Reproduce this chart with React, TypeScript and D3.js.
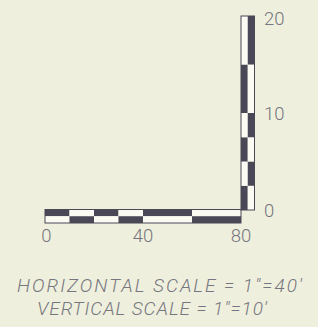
import { useEffect, useRef } from "react";
import * as d3 from "d3";

// horizontal bar scale (feet)
const hBreaks = [0, 10, 20, 30, 40, 60, 80];
const hLabels = [0, 40, 80];
// vertical bar scale (feet)
const vBreaks = [0, 2.5, 5, 7.5, 10, 15, 20];
const vLabels = [0, 10, 20];
const captions = ["HORIZONTAL SCALE = 1\"=40′", "VERTICAL SCALE = 1\"=10′"];

const W = 318;
const H = 327;
const BG = "#eef0dd";
const DARK = "#4a4757";
const LIGHT = "#fbfbf3";
const TEXT = "#77757f";

export default function App() {
  const svgRef = useRef<SVGSVGElement>(null);

  useEffect(() => {
    if (!svgRef.current) return;
    const svg = d3.select(svgRef.current);
    svg.selectAll("*").remove();

    svg.append("rect").attr("width", W).attr("height", H).attr("fill", BG);

    const x = d3.scaleLinear().domain([0, 80]).range([45, 241]);
    const y = d3.scaleLinear().domain([0, 20]).range([210, 16]);

    const barH = 13.5; // thickness of both bars
    const hTop = 209.5;
    const vLeft = 241;

    // horizontal bar: two rows of alternating blocks
    const hSegs = d3.pairs(hBreaks).map(([a, b], i) => ({ a, b, i }));
    const hg = svg.append("g");
    [0, 1].forEach((row) => {
      hg.selectAll(null)
        .data(hSegs)
        .enter()
        .append("rect")
        .attr("x", (d) => x(d.a))
        .attr("width", (d) => x(d.b) - x(d.a))
        .attr("y", hTop + (row * barH) / 2)
        .attr("height", barH / 2)
        .attr("fill", (d) => ((d.i + row) % 2 === 0 ? DARK : LIGHT));
    });
    hg.append("rect")
      .attr("x", x(0))
      .attr("y", hTop)
      .attr("width", x(80) - x(0))
      .attr("height", barH)
      .attr("fill", "none")
      .attr("stroke", DARK)
      .attr("stroke-width", 1);

    // vertical bar: two columns of alternating blocks
    const vSegs = d3.pairs(vBreaks).map(([a, b], i) => ({ a, b, i }));
    const vg = svg.append("g");
    [0, 1].forEach((col) => {
      vg.selectAll(null)
        .data(vSegs)
        .enter()
        .append("rect")
        .attr("x", vLeft + (col * barH) / 2)
        .attr("width", barH / 2)
        .attr("y", (d) => y(d.b))
        .attr("height", (d) => y(d.a) - y(d.b))
        .attr("fill", (d) => ((d.i + col) % 2 === 0 ? DARK : LIGHT));
    });
    vg.append("rect")
      .attr("x", vLeft)
      .attr("y", y(20))
      .attr("width", barH)
      .attr("height", y(0) - y(20))
      .attr("fill", "none")
      .attr("stroke", DARK)
      .attr("stroke-width", 1);

    const font = "Roboto, 'DejaVu Sans', sans-serif";

    // tick labels
    svg.append("g")
      .selectAll("text")
      .data(hLabels)
      .enter()
      .append("text")
      .attr("x", (d) => x(d) + (d === 0 ? 1.5 : 0))
      .attr("y", 242)
      .attr("text-anchor", "middle")
      .attr("font-family", font)
      .attr("font-weight", 300)
      .attr("font-size", 18.5)
      .attr("fill", TEXT)
      .text((d) => d);

    svg.append("g")
      .selectAll("text")
      .data(vLabels)
      .enter()
      .append("text")
      .attr("x", 264)
      .attr("y", (d) => Math.max(y(d) + 6.5, 25))
      .attr("font-family", font)
      .attr("font-weight", 300)
      .attr("font-size", 18.5)
      .attr("fill", TEXT)
      .text((d) => d);

    // captions
    const capPos = [
      { x: 17, y: 292, len: 285 },
      { x: 37, y: 315, len: 230 },
    ];
    svg.append("g")
      .selectAll("text")
      .data(captions)
      .enter()
      .append("text")
      .attr("x", (_, i) => capPos[i].x)
      .attr("y", (_, i) => capPos[i].y)
      .attr("textLength", (_, i) => capPos[i].len)
      .attr("lengthAdjust", "spacing")
      .attr("font-family", font)
      .attr("font-weight", 300)
      .attr("font-style", "italic")
      .attr("font-size", 19)
      .attr("fill", TEXT)
      .text((d) => d);
  }, []);

  return (
    <svg
      ref={svgRef}
      width={W}
      height={H}
      style={{ position: "absolute", left: 0, top: 0, display: "block" }}
    />
  );
}
